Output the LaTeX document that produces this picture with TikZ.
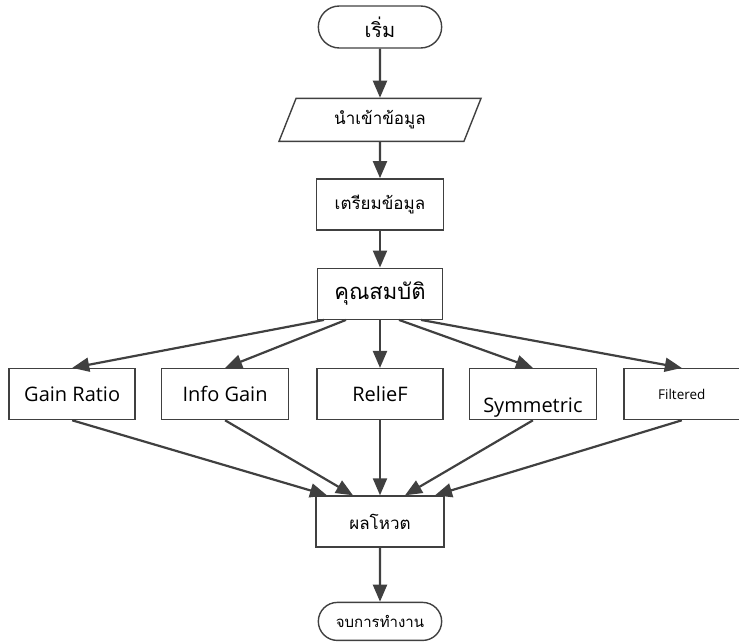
\documentclass[tikz,border=0pt]{standalone}
\usepackage{fontspec}
\setmainfont{Open Sans}
\newfontfamily\thai[Script=Thai]{Loma}
\usetikzlibrary{shapes,shapes.geometric,shapes.misc,positioning,arrows.meta}

\definecolor{linegray}{HTML}{404040}

\begin{document}
\begin{tikzpicture}[x=1pt,y=1pt,node distance=40pt,
            box/.style={
                rectangle, draw=linegray, line width=1.4pt, minimum width=127pt,
                minimum height=51pt, font=\fontsize{17}{20}\selectfont},
            algo/.style={box, font=\fontsize{20}{24}\selectfont},
            term/.style={
                rounded rectangle, draw=linegray, line width=1.4pt, minimum width=130pt},
            iobox/.style={
                trapezium, trapezium left angle=56, trapezium right angle=124,
                trapezium stretches body, draw=linegray, line width=1.4pt,
                minimum width=202pt, minimum height=43pt, font=\fontsize{17}{20}\selectfont},
            flow/.style={draw=linegray, line width=2.2pt,
                -{Triangle[length=17pt,width=14pt]}}]

            \useasboundingbox (-380,27) rectangle (359,-615);

            \node [term,minimum height=42pt,font=\fontsize{20}{24}\selectfont] (start) at (0,0) {\thai เริ่ม};
            \node [iobox,below=49pt of start] (input) {\thai นำเข้าข้อมูล};
            \node [box,below=36pt of input] (prep) {\thai เตรียมข้อมูล};
            \node [box,below=37pt of prep,minimum width=125pt,font=\fontsize{22}{26}\selectfont] (feat) {\thai คุณสมบัติ};

            \node [algo,below=48pt of feat,minimum width=126pt] (relief) {RelieF};
            \node [algo,left=27pt of relief,minimum width=127pt] (info) {Info Gain};
            \node [algo,left=25pt of info,minimum width=126pt] (gain) {Gain Ratio};
            \node [algo,right=25pt of relief,minimum width=127pt] (sym) {\raisebox{-18pt}[0pt][0pt]{Symmetric}};
            \node [algo,right=26pt of sym,minimum width=116pt,font=\fontsize{13.5}{16}\selectfont] (filt) {Filtered};

            \node [box,below=75pt of relief,minimum width=128pt] (vote) {\thai ผลโหวต};
            \node [term,below=54pt of vote,minimum height=38pt,font=\fontsize{15}{18}\selectfont] (stop) {\thai จบการทำงาน};

            \draw [flow] (start) -- (input);
            \draw [flow] (input) -- (prep);
            \draw [flow] (prep) -- (feat);

            \draw [flow] ([xshift=-56pt]feat.south) -- (gain.north);
            \draw [flow] ([xshift=-34pt]feat.south) -- (info.north);
            \draw [flow] (feat.south) -- (relief.north);
            \draw [flow] ([xshift=19pt]feat.south) -- (sym.north);
            \draw [flow] ([xshift=41pt]feat.south) -- (filt.north);

            \draw [flow] (gain.south) -- ([xshift=-53pt]vote.north);
            \draw [flow] (info.south) -- ([xshift=-27pt]vote.north);
            \draw [flow] (relief.south) -- (vote.north);
            \draw [flow] (sym.south) -- ([xshift=25pt]vote.north);
            \draw [flow] (filt.south) -- ([xshift=55pt]vote.north);

            \draw [flow] (vote) -- (stop);

        \end{tikzpicture}
\end{document}
